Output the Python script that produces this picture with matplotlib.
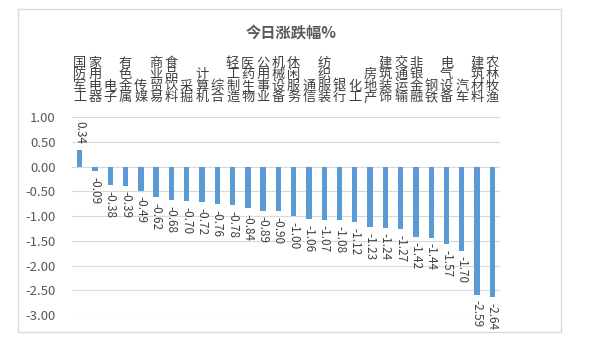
import numpy as np
import matplotlib.pyplot as plt
from matplotlib.patches import Rectangle
import matplotlib.transforms as mtransforms

plt.rcParams['font.family'] = ['Noto Sans CJK SC', 'DejaVu Sans']

industries = ['国防军工', '家用电器', '电子', '有色金属', '传媒', '商业贸易', '食品饮料',
              '采掘', '计算机', '综合', '轻工制造', '医药生物', '公用事业', '机械设备',
              '休闲服务', '通信', '纺织服装', '银行', '化工', '房地产', '建筑装饰',
              '交通运输', '非银金融', '钢铁', '电气设备', '汽车', '建筑材料', '农林牧渔']
changes = [0.34, -0.09, -0.38, -0.39, -0.49, -0.62, -0.68, -0.70, -0.72, -0.76,
           -0.78, -0.84, -0.89, -0.90, -1.00, -1.06, -1.07, -1.08, -1.12, -1.23,
           -1.24, -1.27, -1.42, -1.44, -1.57, -1.70, -2.59, -2.64]
yticks = [1.0, 0.5, 0.0, -0.5, -1.0, -1.5, -2.0, -2.5, -3.0]

fig = plt.figure(figsize=(5.91, 3.43), dpi=100)
fig.patches.append(Rectangle((0.030, 0.032), 0.919, 0.942, transform=fig.transFigure,
                             fill=False, edgecolor='#D9D9D9', linewidth=1))
ax = fig.add_axes([0.122, 0.0816, 0.724, 0.577])

x = np.arange(len(industries))
ax.bar(x, changes, width=0.35, color='#5B9BD5', zorder=3)

for xi, v in zip(x, changes):
    if v >= 0:
        ax.annotate('%.2f' % v, (xi, v), xytext=(0, 4), textcoords='offset points',
                    rotation=270, ha='center', va='bottom', fontsize=8.5, color='#404040')
    else:
        ax.annotate('%.2f' % v, (xi, v), xytext=(0, -4), textcoords='offset points',
                    rotation=270, ha='center', va='top', fontsize=8.5, color='#404040')

# vertical category names stacked above the plot
trans = mtransforms.blended_transform_factory(ax.transData, ax.transAxes)
for xi, name in zip(x, industries):
    ax.text(xi, 1.065, '\n'.join(name), transform=trans, ha='center', va='bottom',
            fontsize=9.5, color='#404040', linespacing=0.85)

ax.set_xlim(-0.5, len(industries) - 0.5)
ax.set_ylim(-3.0, 1.0)
ax.set_yticks(yticks)
ax.set_yticklabels(['%.2f' % t for t in yticks], fontsize=9.5, color='#595959')
ax.set_xticks([])
ax.tick_params(axis='y', length=0, pad=12)
ax.grid(axis='y', color='#D9D9D9', linewidth=0.8, zorder=0)
for s in ax.spines.values():
    s.set_visible(False)
ax.axhline(0, color='#D9D9D9', linewidth=0.8, zorder=1)

fig.text(0.492, 0.905, '今日涨跌幅%', ha='center', va='center', fontsize=11,
         fontweight='bold', color='#595959')

fig.savefig('out.png', dpi=100)
